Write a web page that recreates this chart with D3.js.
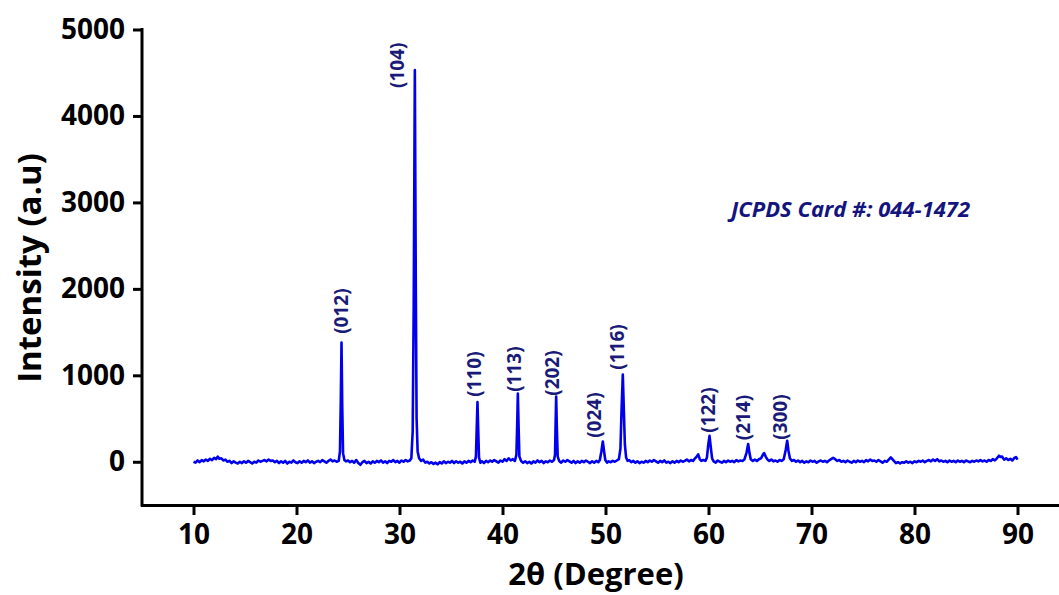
<!DOCTYPE html>
<html><head><meta charset="utf-8">
<script src="https://cdn.jsdelivr.net/npm/d3@7"></script>
<style>body{margin:0;background:#fff}svg{display:block}</style></head>
<body><svg id="c" width="1059" height="595"></svg>
<script>
// XRD spectrum: [2θ, intensity]
const spectrum = [
[10.0,0],[10.2,-10],[10.4,15],[10.6,-5],[10.8,20],[11.0,5],[11.2,25],[11.4,10],[11.6,35],[11.8,20],[12.0,45],[12.2,30],[12.35,60],[12.5,35],[12.7,40],[12.9,15],[13.1,25],[13.3,0],[13.5,10],[13.7,-15],[13.9,5],[14.1,-10],[14.3,-20],[14.5,0],[14.7,-15],[14.9,5],[15.1,-10],[15.3,10],[15.5,-5],[15.7,-20],[15.9,0],[16.1,-10],[16.3,15],[16.5,0],[16.7,10],[16.9,20],[17.1,5],[17.3,25],[17.5,10],[17.7,15],[17.9,-5],[18.1,10],[18.3,-15],[18.5,5],[18.7,-10],[18.9,10],[19.1,-20],[19.3,0],[19.5,-10],[19.7,15],[19.9,-5],
[20.1,-15],[20.3,5],[20.5,-10],[20.7,10],[20.9,-5],[21.1,15],[21.3,-10],[21.5,5],[21.7,-15],[21.9,0],[22.1,10],[22.3,-5],[22.5,20],[22.7,5],[22.9,-10],[23.1,10],[23.3,25],[23.5,5],[23.7,15],[23.9,0],[24.1,10],[24.22,120],[24.3,700],[24.37,1380],[24.44,650],[24.52,100],[24.65,20],[24.8,5],[25.0,15],[25.2,-5],[25.4,10],[25.6,-10],[25.8,20],[26.0,-15],[26.2,-35],[26.4,-5],[26.6,10],[26.8,-15],[27.0,0],[27.2,-20],[27.4,5],[27.6,-10],[27.8,10],[28.0,-5],[28.2,15],[28.4,-10],[28.6,5],[28.8,-15],[29.0,10],[29.2,0],[29.4,20],[29.6,-5],[29.8,10],
[30.0,-10],[30.2,15],[30.4,0],[30.6,20],[30.8,5],[31.0,15],[31.15,40],[31.28,350],[31.38,1800],[31.49,4530],[31.58,2100],[31.66,500],[31.76,120],[31.9,40],[32.1,10],[32.3,25],[32.5,-10],[32.7,0],[32.9,-20],[33.1,-5],[33.3,-25],[33.5,-10],[33.7,-30],[33.9,-5],[34.1,-20],[34.3,5],[34.5,-15],[34.7,0],[34.9,-10],[35.1,10],[35.3,-15],[35.5,5],[35.7,-10],[35.9,0],[36.1,-20],[36.3,5],[36.5,-10],[36.7,10],[36.9,-5],[37.1,15],[37.3,0],[37.42,60],[37.5,400],[37.57,690],[37.64,380],[37.72,50],[37.85,-10],[38.0,5],[38.2,-15],[38.4,10],[38.6,-5],[38.8,15],[39.0,0],[39.2,20],[39.4,5],[39.6,-10],[39.8,15],
[40.0,0],[40.2,30],[40.4,10],[40.6,40],[40.8,15],[41.0,30],[41.2,10],[41.35,80],[41.43,450],[41.49,790],[41.56,420],[41.64,60],[41.8,10],[42.0,-10],[42.2,5],[42.4,-15],[42.6,0],[42.8,-20],[43.0,5],[43.2,-10],[43.4,15],[43.6,-5],[43.8,10],[44.0,-15],[44.2,5],[44.4,-5],[44.6,15],[44.8,0],[45.0,20],[45.1,80],[45.15,400],[45.21,755],[45.28,380],[45.36,60],[45.5,10],[45.7,-10],[45.9,15],[46.1,0],[46.3,20],[46.5,5],[46.7,-10],[46.9,10],[47.1,-15],[47.3,5],[47.5,-10],[47.7,10],[47.9,-5],[48.1,15],[48.3,0],[48.5,-15],[48.7,5],[48.9,-10],[49.1,10],[49.3,-5],[49.45,20],[49.6,120],[49.74,235],[49.85,130],[49.98,20],
[50.15,-10],[50.3,5],[50.5,-5],[50.7,10],[50.9,0],[51.1,15],[51.3,30],[51.45,150],[51.56,600],[51.68,1010],[51.78,600],[51.88,200],[52.0,50],[52.15,10],[52.3,20],[52.5,-5],[52.7,10],[52.9,-10],[53.1,5],[53.3,-15],[53.5,0],[53.7,-10],[53.9,10],[54.1,-5],[54.3,15],[54.5,0],[54.7,20],[54.9,5],[55.1,-10],[55.3,10],[55.5,-5],[55.7,15],[55.9,-10],[56.1,0],[56.3,-15],[56.5,5],[56.7,-10],[56.9,10],[57.1,-5],[57.3,15],[57.5,0],[57.7,10],[57.9,25],[58.1,5],[58.3,20],[58.5,10],[58.7,40],[58.85,60],[59.0,85],[59.15,30],[59.3,10],[59.5,20],[59.7,10],[59.85,50],[59.98,200],
[60.1,300],[60.22,170],[60.35,40],[60.5,5],[60.7,-10],[60.9,15],[61.1,0],[61.3,-10],[61.5,10],[61.7,-5],[61.9,15],[62.1,0],[62.3,10],[62.5,-5],[62.7,20],[62.9,5],[63.1,15],[63.3,10],[63.5,30],[63.7,110],[63.85,205],[63.98,100],[64.1,30],[64.3,10],[64.5,25],[64.7,10],[64.9,30],[65.1,40],[65.3,85],[65.4,100],[65.55,60],[65.7,30],[65.9,10],[66.1,25],[66.3,5],[66.5,15],[66.7,0],[66.9,20],[67.1,10],[67.3,30],[67.5,140],[67.64,243],[67.76,130],[67.9,40],[68.1,10],[68.3,20],[68.5,0],[68.7,15],[68.9,-5],[69.1,10],[69.3,-10],[69.5,5],[69.7,-5],[69.9,15],
[70.1,0],[70.3,10],[70.5,-10],[70.7,5],[70.9,15],[71.1,0],[71.3,10],[71.5,-5],[71.7,15],[71.9,30],[72.1,45],[72.3,30],[72.5,10],[72.7,20],[72.9,0],[73.1,10],[73.3,-5],[73.5,15],[73.7,0],[73.9,-10],[74.1,10],[74.3,-5],[74.5,15],[74.7,0],[74.9,10],[75.1,-5],[75.3,20],[75.5,5],[75.7,25],[75.9,10],[76.1,15],[76.3,0],[76.5,20],[76.7,5],[76.9,-10],[77.1,10],[77.3,0],[77.5,25],[77.7,50],[77.85,30],[78.0,10],[78.2,-15],[78.4,-5],[78.6,-20],[78.8,-5],[79.0,-10],[79.2,5],[79.4,-10],[79.6,0],[79.8,-15],
[80.0,5],[80.2,-5],[80.4,10],[80.6,0],[80.8,15],[81.0,-5],[81.2,10],[81.4,20],[81.6,5],[81.8,25],[82.0,10],[82.2,30],[82.4,5],[82.6,15],[82.8,0],[83.0,10],[83.2,-5],[83.4,15],[83.6,0],[83.8,10],[84.0,-5],[84.2,15],[84.4,0],[84.6,10],[84.8,-5],[85.0,15],[85.2,5],[85.4,-5],[85.6,10],[85.8,0],[86.0,15],[86.2,5],[86.4,20],[86.6,5],[86.8,15],[87.0,0],[87.2,20],[87.4,10],[87.6,30],[87.8,15],[88.0,40],[88.2,70],[88.35,55],[88.5,60],[88.7,25],[88.9,40],[89.1,20],[89.3,35],[89.5,15],[89.7,45],[89.85,55],[90.0,25]
];
// Peak (hkl) labels and their anchor (bottom of rotated text) in data units
const peakLabels    = ["(012)","(104)","(110)","(113)","(202)","(024)","(116)","(122)","(214)","(300)"];
const labelTheta    = [24.37, 29.81, 37.31, 41.17, 44.83, 48.96, 51.14, 60.0, 63.43, 66.99];
const labelIntensity= [1480, 4324, 751, 809, 763, 277, 1064, 335, 249, 254];
const xTicks = [10,20,30,40,50,60,70,80,90];
const yTicks = [0,1000,2000,3000,4000,5000];
const xDomain = [5,95];
const yDomain = [-500,5000];
const cardText = "JCPDS Card #: 044-1472";

const svg = d3.select("#c");
svg.append("rect").attr("width",1059).attr("height",595).attr("fill","#fff");
const x = d3.scaleLinear().domain(xDomain).range([142, 142+90*10.3]);
const y = d3.scaleLinear().domain(yDomain).range([505, 29.5]);
const font = "'Open Sans', sans-serif";

// spectrum line
const line = d3.line().x(d=>x(d[0])).y(d=>y(d[1]));
svg.append("path").datum(spectrum).attr("d",line)
  .attr("fill","none").attr("stroke","#0000ee").attr("stroke-width",2.6).attr("stroke-linejoin","round");

// axes
const gx = svg.append("g").attr("transform",`translate(0,${y(-500)})`)
  .call(d3.axisBottom(x).tickValues(xTicks).tickSize(10).tickSizeOuter(0).tickPadding(9).tickFormat(d3.format("d")));
const gy = svg.append("g").attr("transform",`translate(${x(5)},0)`)
  .call(d3.axisLeft(y).tickValues(yTicks).tickSize(9).tickSizeOuter(0).tickPadding(8).tickFormat(d3.format("d")));
[gx,gy].forEach(g=>{
  g.select(".domain").attr("stroke","#000").attr("stroke-width",3).attr("stroke-linecap","square");
  g.selectAll(".tick line").attr("stroke","#000").attr("stroke-width",3);
  g.selectAll(".tick text").attr("fill","#000").attr("font-family",font).attr("font-weight","bold").attr("font-size",28);
});
gy.select(".domain").attr("d",`M0,${y(-500)}V${y(5000)}`);

// axis titles
svg.append("text").attr("x",596).attr("y",585).attr("text-anchor","middle")
  .attr("font-family",font).attr("font-weight","bold").attr("font-size",31).attr("fill","#000")
  .text("2θ (Degree)");
svg.append("text").attr("transform","translate(41,268) rotate(-90)").attr("text-anchor","middle")
  .attr("font-family",font).attr("font-weight","bold").attr("font-size",33).attr("fill","#000")
  .text("Intensity (a.u)");

// peak labels
svg.append("g").selectAll("text").data(peakLabels).join("text")
  .attr("transform",(d,i)=>`translate(${x(labelTheta[i])},${y(labelIntensity[i])}) rotate(-90)`)
  .attr("dy","0.35em").attr("text-anchor","start")
  .attr("font-family",font).attr("font-weight","bold").attr("font-size",19).attr("fill","#1a1a78")
  .text(d=>d);

// card annotation
svg.append("text").attr("x",731).attr("y",217)
  .attr("font-family",font).attr("font-weight","bold").attr("font-style","italic").attr("font-size",22).attr("fill","#14147e")
  .text(cardText);
</script></body></html>
